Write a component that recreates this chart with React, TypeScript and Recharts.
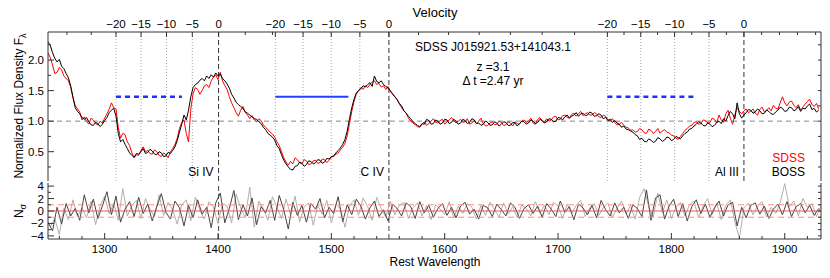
import { ComposedChart, Line, XAxis, YAxis, ReferenceLine } from "recharts";

const FONT = "'Liberation Sans', Arial, Helvetica, sans-serif";
const FRAME = "#333";
const W_DOMAIN: [number, number] = [1250, 1932];
const F_DOMAIN: [number, number] = [0.02, 2.46];
const N_DOMAIN: [number, number] = [-4.5, 4.5];

// spectra sampled every 2 A starting at 1250 A (rest frame)
const WAVE_START = 1250;
const WAVE_STEP = 2;

const bossFlux = [
  2.3, 2.24, 2.12, 2.03, 1.97, 2.01, 1.9, 1.86, 1.78, 1.71, 1.58, 1.4, 1.22, 1.16, 1.12, 1.06, 1.03, 1.06, 0.99, 0.94,
  0.93, 0.98, 0.96, 0.91, 0.95, 1.01, 1.06, 1.14, 1.18, 1.21, 1.08, 0.8, 0.66, 0.7, 0.62, 0.55, 0.48, 0.44, 0.41, 0.47,
  0.46, 0.5, 0.55, 0.47, 0.49, 0.54, 0.51, 0.46, 0.45, 0.5, 0.48, 0.42, 0.43, 0.49, 0.47, 0.52, 0.58, 0.68, 0.82, 0.95,
  1.1, 1.02, 1.18, 1.4, 1.55, 1.6, 1.62, 1.67, 1.7, 1.66, 1.74, 1.7, 1.76, 1.72, 1.79, 1.74, 1.77, 1.7, 1.66, 1.61,
  1.54, 1.44, 1.38, 1.31, 1.27, 1.24, 1.21, 1.15, 1.13, 1.1, 1.07, 1.04, 1.03, 0.99, 0.96, 0.9, 0.86, 0.8, 0.77, 0.74,
  0.69, 0.6, 0.55, 0.45, 0.36, 0.3, 0.25, 0.21, 0.2, 0.26, 0.27, 0.33, 0.31, 0.26, 0.29, 0.35, 0.34, 0.3, 0.32, 0.37,
  0.36, 0.31, 0.33, 0.39, 0.38, 0.42, 0.43, 0.48, 0.52, 0.56, 0.62, 0.7, 0.84, 1.04, 1.22, 1.36, 1.46, 1.5, 1.53, 1.58,
  1.56, 1.6, 1.63, 1.57, 1.74, 1.65, 1.63, 1.66, 1.6, 1.57, 1.54, 1.5, 1.45, 1.4, 1.35, 1.29, 1.25, 1.17, 1.13, 1.08,
  1.04, 0.99, 0.96, 0.93, 0.91, 0.96, 0.95, 1.03, 1.01, 0.95, 0.96, 1.02, 1.0, 0.95, 0.97, 1.03, 1.02, 0.96, 0.98, 1.03,
  1.0, 0.95, 0.97, 1.03, 1.01, 0.96, 0.98, 1.04, 1.02, 0.96, 0.97, 0.93, 0.95, 1.0, 0.98, 0.93, 0.94, 0.99, 0.97, 0.92,
  0.95, 0.99, 0.98, 0.93, 0.93, 0.98, 0.97, 0.92, 0.96, 1.0, 0.99, 0.95, 0.97, 1.02, 1.0, 0.96, 0.98, 1.03, 1.01, 0.97,
  0.99, 1.04, 1.03, 0.99, 1.0, 1.06, 1.05, 1.02, 1.07, 1.1, 1.05, 1.08, 1.1, 1.14, 1.08, 1.12, 1.13, 1.09, 1.1, 1.15,
  1.13, 1.08, 1.09, 1.12, 1.1, 1.04, 1.06, 1.01, 1.03, 0.98, 1.01, 0.97, 0.95, 0.9, 0.92, 0.87, 0.86, 0.84, 0.82, 0.78,
  0.76, 0.7, 0.72, 0.67, 0.66, 0.71, 0.69, 0.65, 0.67, 0.73, 0.71, 0.67, 0.69, 0.74, 0.73, 0.68, 0.7, 0.75, 0.73, 0.71,
  0.76, 0.8, 0.82, 0.87, 0.88, 0.92, 0.95, 0.99, 0.97, 0.93, 0.92, 0.97, 0.95, 0.91, 0.93, 0.98, 1.0, 0.96, 1.04, 1.0,
  1.09, 1.16, 1.12, 1.04, 1.3, 1.12, 1.05, 1.1, 1.14, 1.19, 1.18, 1.13, 1.15, 1.2, 1.17, 1.12, 1.13, 1.18, 1.16, 1.12,
  1.11, 1.15, 1.18, 1.23, 1.21, 1.16, 1.17, 1.23, 1.22, 1.17, 1.19, 1.24, 1.16, 1.21, 1.2, 1.25, 1.28, 1.19, 1.21, 1.15, 1.18,
];

const sdssFlux = [
  2.12, 2.04, 1.92, 1.78, 1.8, 1.88, 1.84, 1.74, 1.7, 1.66, 1.56, 1.38, 1.26, 1.2, 1.15, 1.02, 1.07, 1.0, 0.95, 1.05,
  1.02, 0.96, 0.94, 1.0, 0.97, 1.05, 1.12, 1.2, 1.3, 1.22, 1.2, 0.9, 0.72, 0.8, 0.78, 0.66, 0.6, 0.48, 0.4, 0.45,
  0.44, 0.52, 0.58, 0.5, 0.52, 0.47, 0.46, 0.53, 0.5, 0.44, 0.42, 0.48, 0.45, 0.4, 0.5, 0.55, 0.62, 0.72, 0.88, 0.98,
  1.02, 0.8, 0.66, 1.2, 1.45, 1.55, 1.52, 1.44, 1.5, 1.58, 1.6, 1.55, 1.66, 1.72, 1.76, 1.68, 1.8, 1.66, 1.58, 1.52,
  1.4, 1.3, 1.22, 1.14, 1.08, 1.18, 1.24, 1.15, 1.1, 1.04, 1.09, 1.02, 0.99, 1.04, 1.01, 0.94, 0.9, 0.86, 0.82, 0.79,
  0.74, 0.66, 0.6, 0.5, 0.4, 0.33, 0.28, 0.34, 0.3, 0.4, 0.37, 0.32, 0.3, 0.37, 0.35, 0.29, 0.3, 0.35, 0.36, 0.31,
  0.32, 0.38, 0.37, 0.32, 0.36, 0.41, 0.42, 0.46, 0.48, 0.53, 0.57, 0.64, 0.76, 0.96, 1.16, 1.32, 1.44, 1.5, 1.55, 1.52,
  1.58, 1.55, 1.6, 1.64, 1.66, 1.6, 1.62, 1.56, 1.58, 1.52, 1.57, 1.49, 1.44, 1.4, 1.36, 1.28, 1.22, 1.17, 1.13, 1.05,
  1.0, 0.97, 0.94, 0.91, 0.9, 0.95, 0.99, 0.93, 0.96, 1.0, 1.04, 0.98, 0.97, 1.01, 1.03, 0.95, 0.99, 1.02, 1.06, 1.01,
  0.97, 1.0, 1.03, 0.98, 0.99, 1.04, 0.95, 0.97, 1.01, 0.96, 1.0, 1.05, 0.96, 0.92, 0.93, 0.97, 0.99, 0.94, 0.95, 1.0,
  0.98, 0.93, 0.94, 0.99, 0.97, 0.92, 0.99, 0.96, 0.95, 1.0, 1.02, 0.98, 1.0, 1.05, 0.97, 0.95, 1.03, 1.06, 1.0, 0.98,
  1.04, 1.0, 1.02, 1.07, 1.08, 1.02, 1.03, 1.09, 1.1, 1.06, 1.05, 1.11, 1.13, 1.08, 1.12, 1.16, 1.09, 1.12, 1.14, 1.1,
  1.1, 1.14, 1.12, 1.07, 1.06, 1.1, 1.08, 1.02, 1.01, 1.04, 0.98, 0.94, 0.95, 0.98, 0.93, 0.9, 0.89, 0.85, 0.86, 0.82,
  0.83, 0.88, 0.86, 0.81, 0.8, 0.87, 0.85, 0.8, 0.83, 0.88, 0.8, 0.84, 0.86, 0.82, 0.81, 0.77, 0.76, 0.72, 0.7, 0.75,
  0.8, 0.85, 0.88, 0.92, 0.93, 0.98, 0.99, 0.95, 0.96, 1.02, 1.01, 0.97, 0.98, 1.05, 1.03, 0.97, 1.1, 1.02, 0.98, 1.12,
  1.18, 1.05, 0.95, 1.1, 1.22, 1.16, 1.12, 1.17, 1.2, 1.14, 1.16, 1.2, 1.13, 1.1, 1.19, 1.23, 1.15, 1.18, 1.22, 1.17,
  1.26, 1.21, 1.2, 1.3, 1.4, 1.3, 1.25, 1.31, 1.33, 1.26, 1.22, 1.27, 1.18, 1.23, 1.28, 1.32, 1.36, 1.27, 1.24, 1.29, 1.2,
];

// N_sigma residuals every 4 A: dark set from 1250 A, light set offset by 2 A
const RESID_STEP = 4;
const residDark = [
  -1.8, -3.2, 0.6, -2.1, 1.2, -0.8, 0.4, -1.5, 2.6, -0.3,
  1.9, -1.2, 0.8, 3.1, -0.6, 2.4, -1.8, 0.3, 1.5, -0.9,
  2.2, -0.4, 1.1, -1.6, 0.7, 2.8, -0.2, -1.3, 1.6, 0.5,
  -2.4, 0.9, -1.1, 1.8, -0.5, 0.6, -2.7, 1.3, 2.9, -1.9,
  0.4, 3.3, -1.4, 1.0, -0.8, 2.1, -2.2, 0.7, -0.3, 1.7,
  -1.5, 2.5, 0.2, -2.9, 1.4, -0.7, 0.9, -1.8, 1.2, 0.3,
  2.0, -1.1, 0.6, -0.4, 2.3, -1.7, 1.0, -0.6, 1.9, 0.8,
  -1.3, 0.5, 1.6, -0.9, 0.2, -1.6, 1.1, 0.4, -0.8, 1.3,
  0.7, -1.2, 1.5, -0.3, 0.9, -1.0, 0.4, 1.2, -0.7, 0.6,
  -1.1, 0.8, 1.4, -0.5, 0.3, -1.3, 0.9, 0.5, -0.9, 1.1,
  0.2, -0.8, 1.3, 0.6, -1.2, 0.4, 1.0, -0.4, 0.8, -1.0,
  1.2, 0.3, -0.9, 1.6, -0.2, 0.7, -1.4, 1.1, 0.5, -0.6,
  0.9, -1.1, 1.7, 0.2, -0.8, 1.3, -0.3, 0.6, -1.2, 1.0,
  0.4, -0.9, 3.4, -1.5, 2.1, 2.6, -1.3, 0.8, 1.9, -0.9,
  1.2, -1.6, 0.7, 1.8, -0.4, 1.1, -1.0, 0.5, 1.6, -0.8,
  1.0, 1.4, -2.4, 0.6, -1.1, 0.9, 1.3, -0.5, 0.8, -1.2,
  0.3, 1.1, -0.6, 1.5, -0.9, 0.7, 1.2, -0.3, 0.9, -0.7, 0.4,
];

const residLight = [
  -2.6, -1.2, -3.8, 0.4, -1.4, 1.8, -0.9, 0.5, -1.1, 1.6,
  -2.2, 0.8, 2.4, -0.5, 1.3, -1.5, 3.6, -0.8, 0.9, 1.7,
  -1.2, 2.0, 0.3, -0.9, 2.6, -0.7, 1.4, 0.2, -2.1, 1.0,
  1.8, -1.6, 2.2, 0.1, -1.3, 1.5, 0.6, -2.0, 1.2, 0.8,
  -1.9, 2.7, 0.5, -1.1, 3.8, -2.6, 1.6, 0.4, -1.5, 2.3,
  0.6, -1.2, 1.9, -0.6, 2.4, -1.8, 0.7, 1.3, -2.3, 0.9,
  -0.5, 1.7, -1.9, 1.1, 0.3, -2.6, 0.8, 1.8, -0.7, 2.1,
  0.7, -1.5, 2.2, 0.4, -1.0, 1.6, -0.6, 0.9, 1.4, -1.2,
  0.5, 1.3, -0.8, 0.9, -1.4, 1.0, 0.3, -0.6, 1.5, -1.1,
  0.8, -0.4, 1.2, 0.6, -1.3, 0.9, -0.7, 1.4, 0.2, -1.0,
  1.3, -0.5, 0.7, -1.1, 1.0, 0.4, -0.8, 1.5, -0.3, 0.9,
  -0.6, 1.4, 0.8, -1.2, 1.1, -0.4, 0.9, 1.7, -0.9, 0.5,
  1.2, -0.7, 0.6, 1.3, -1.0, 0.4, 1.6, -0.5, 0.9, -1.3,
  2.2, 3.6, 0.7, -1.0, 2.9, -0.3, 1.8, -1.2, 0.6, 1.4,
  -0.8, 1.0, 1.6, -1.1, 0.8, 2.0, -0.6, 1.3, -1.4, 0.9,
  1.8, -1.7, -4.4, 0.5, 1.3, -0.6, 0.8, 1.5, -1.0, 0.6,
  -0.4, 1.3, 4.4, 0.7, 1.6, -0.8, 2.0, 0.6, 1.2, -0.9, 0.8,
];

// absorption lines, velocities in 1000 km/s
const lineNames = ["Si IV", "C IV", "Al III"];
const lineCenters = [1400.5, 1550.8, 1864];
const labelledVel = [-20, -15, -10, -5, 0];
const extraVel = [
  [-30, -25, 5, 10],
  [5, 10, 15, 20, 25, 30],
  [-17.5, -12.5, -7.5, -2.5, 2.5, 5, 7.5, 10],
];
const troughVel: [number, number] = [-20, -7];
const troughSolid = [false, true, false];
const TROUGH_LEVEL = 1.4;

const waveLabels = [1300, 1400, 1500, 1600, 1700, 1800, 1900];
const fluxLabels = [0.5, 1.0, 1.5, 2.0];
const nLabels = [-4, -2, 0, 2, 4];

const C_KMS = 299792.458;
const toWave = (lam0: number, v: number) => {
  const b = (v * 1000) / C_KMS;
  return lam0 * Math.sqrt((1 + b) / (1 - b));
};

const specData = bossFlux.map((b, i) => ({
  w: WAVE_START + i * WAVE_STEP,
  boss: b,
  sdss: sdssFlux[i],
}));
const darkData = residDark.map((n, i) => ({ w: WAVE_START + i * RESID_STEP, n }));
const lightData = residLight.map((n, i) => ({ w: WAVE_START + 2 + i * RESID_STEP, n }));

const waveTicks: number[] = [];
for (let w = 1260; w <= 1920; w += 20) waveTicks.push(w);
const fluxTicks: number[] = [];
for (let f = 0.25; f <= 2.26; f += 0.25) fluxTicks.push(Math.round(f * 100) / 100);
const nTicks = [-4, -3, -2, -1, 0, 1, 2, 3, 4];

const velTicks = lineCenters
  .flatMap((c, k) => [
    ...labelledVel.map((v) => ({ w: toWave(c, v), label: v === 0 ? "0" : `\u2212${-v}` })),
    ...extraVel[k].map((v) => ({ w: toWave(c, v), label: "" })),
  ])
  .filter((t) => t.w > W_DOMAIN[0] && t.w < W_DOMAIN[1]);
const velLabel = new Map(velTicks.map((t) => [t.w.toFixed(3), t.label]));

const txt = { fontFamily: FONT, fill: "#000" };

const waveTick = (dir: 1 | -1, withLabel: boolean) => (p: any) => {
  const v = p.payload.value as number;
  const major = waveLabels.includes(v);
  return (
    <g>
      <line x1={p.x} x2={p.x} y1={p.y} y2={p.y + dir * (major ? 6 : 3)} stroke={FRAME} />
      {withLabel && major && (
        <text x={p.x} y={p.y + 13.5} textAnchor="middle" fontSize={11.5} {...txt}>
          {v}
        </text>
      )}
    </g>
  );
};

const velTick = (p: any) => {
  const label = velLabel.get(Number(p.payload.value).toFixed(3)) ?? "";
  return (
    <g>
      <line x1={p.x} x2={p.x} y1={p.y} y2={p.y + (label ? 5 : 3)} stroke={FRAME} />
      {label && (
        <text x={p.x} y={p.y - 4} textAnchor="middle" fontSize={11.5} {...txt}>
          {label}
        </text>
      )}
    </g>
  );
};

const yTick = (dir: 1 | -1, labels: number[] | null, fmt: (v: number) => string) => (p: any) => {
  const v = p.payload.value as number;
  const major = labels ? labels.includes(v) : false;
  return (
    <g>
      <line x1={p.x} x2={p.x + dir * (major ? 6 : 3)} y1={p.y} y2={p.y} stroke={FRAME} />
      {labels && major && (
        <text x={p.x - 4} y={p.y + 4} textAnchor="end" fontSize={11.5} {...txt}>
          {fmt(v)}
        </text>
      )}
    </g>
  );
};

const axisCommon = {
  type: "number" as const,
  allowDataOverflow: true,
  interval: 0 as const,
  tickSize: 0,
  tickMargin: 0,
  tickLine: false,
  axisLine: { stroke: FRAME },
};

export default function App() {
  return (
    <div style={{ position: "absolute", left: 0, top: 0, width: 830, height: 278, background: "#fff" }}>
      <div style={{ position: "absolute", left: 0, top: 0 }}>
        <ComposedChart width={830} height={181} data={specData} margin={{ top: 0, right: 0, bottom: 0, left: 0 }}>
          <XAxis {...axisCommon} xAxisId="w" dataKey="w" domain={W_DOMAIN} ticks={waveTicks} height={0} tick={waveTick(-1, false)} />
          <XAxis {...axisCommon} xAxisId="v" dataKey="w" orientation="top" domain={W_DOMAIN} ticks={velTicks.map((t) => t.w)} height={32} tick={velTick} />
          <YAxis {...axisCommon} yAxisId="l" domain={F_DOMAIN} ticks={fluxTicks} width={48} tick={yTick(1, fluxLabels, (v) => v.toFixed(1))} />
          <YAxis {...axisCommon} yAxisId="r" orientation="right" domain={F_DOMAIN} ticks={fluxTicks} width={9} tick={yTick(-1, null, String)} />

          <ReferenceLine xAxisId="w" yAxisId="l" y={1} stroke="#888" strokeDasharray="5 4" />
          {lineCenters.map((c) =>
            labelledVel
              .filter((v) => v !== 0)
              .map((v) => (
                <ReferenceLine key={`${c}${v}`} xAxisId="w" yAxisId="l" x={toWave(c, v)} stroke="#aaa" strokeDasharray="1 2" />
              ))
          )}
          {lineCenters.map((c, k) => (
            <ReferenceLine
              key={`z${c}`}
              xAxisId="w"
              yAxisId="l"
              x={c}
              stroke="#333"
              strokeDasharray="5 3"
              label={{ value: lineNames[k], position: "insideBottomRight", fontSize: 12, fill: "#000", fontFamily: FONT }}
            />
          ))}
          {lineCenters.map((c, k) => (
            <ReferenceLine
              key={`t${c}`}
              xAxisId="w"
              yAxisId="l"
              segment={[
                { x: toWave(c, troughVel[0]), y: TROUGH_LEVEL },
                { x: toWave(c, troughVel[1]), y: TROUGH_LEVEL },
              ]}
              stroke={troughSolid[k] ? "#2040ff" : "#2030ff"}
              strokeWidth={troughSolid[k] ? 2 : 2.5}
              strokeDasharray={troughSolid[k] ? undefined : "5 4"}
            />
          ))}

          <Line xAxisId="w" yAxisId="l" dataKey="sdss" stroke="#ff0000" strokeWidth={1} dot={false} isAnimationActive={false} />
          <Line xAxisId="w" yAxisId="l" dataKey="boss" stroke="#000" strokeWidth={1} dot={false} isAnimationActive={false} />
        </ComposedChart>
      </div>

      <div style={{ position: "absolute", left: 0, top: 175 }}>
        <ComposedChart width={830} height={103} margin={{ top: 8, right: 0, bottom: 0, left: 0 }}>
          <XAxis {...axisCommon} xAxisId="w" dataKey="w" domain={W_DOMAIN} ticks={waveTicks} height={39} tick={waveTick(-1, true)} />
          <XAxis {...axisCommon} xAxisId="t" dataKey="w" orientation="top" domain={W_DOMAIN} ticks={waveTicks} height={0} tick={waveTick(1, false)} />
          <YAxis {...axisCommon} yAxisId="l" domain={N_DOMAIN} ticks={nTicks} width={48} tick={yTick(1, nLabels, (v) => (v < 0 ? `\u2212${-v}` : String(v)))} />
          <YAxis {...axisCommon} yAxisId="r" orientation="right" domain={N_DOMAIN} ticks={nTicks} width={9} tick={yTick(-1, null, String)} />

          {lineCenters.slice(0, 2).map((c) => (
            <ReferenceLine key={`b${c}`} xAxisId="w" yAxisId="l" x={c} stroke="#444" strokeDasharray="5 3" />
          ))}

          <Line xAxisId="w" yAxisId="l" data={lightData} dataKey="n" stroke="#b0b0b0" strokeWidth={1} dot={false} isAnimationActive={false} />
          <Line xAxisId="w" yAxisId="l" data={darkData} dataKey="n" stroke="#444" strokeWidth={1} dot={false} isAnimationActive={false} />

          <ReferenceLine xAxisId="w" yAxisId="l" y={0} stroke="#ff5050" />
          <ReferenceLine xAxisId="w" yAxisId="l" y={1} stroke="#ff8a8a" strokeDasharray="6 4" />
          <ReferenceLine xAxisId="w" yAxisId="l" y={-1} stroke="#ff8a8a" strokeDasharray="6 4" />
        </ComposedChart>
      </div>

      <svg width={830} height={278} style={{ position: "absolute", left: 0, top: 0, pointerEvents: "none" }}>
        <text x={435} y={17} textAnchor="middle" fontSize={13} {...txt}>Velocity</text>
        <text x={493} y={51} textAnchor="middle" fontSize={12} {...txt}>SDSS J015921.53+141043.1</text>
        <text x={493} y={71} textAnchor="middle" fontSize={12} {...txt}>z =3.1</text>
        <text x={493} y={85} textAnchor="middle" fontSize={12} {...txt}>{"\u0394 t =2.47 yr"}</text>
        <text x={805} y={162} textAnchor="end" fontSize={12} fontFamily={FONT} fill="#ff0000">SDSS</text>
        <text x={805} y={176} textAnchor="end" fontSize={12} {...txt}>BOSS</text>
        <text transform="translate(23,106) rotate(-90)" textAnchor="middle" fontSize={12} {...txt}>
          Normalized Flux Density F<tspan dy={3} fontSize={9}>{"\u03bb"}</tspan>
        </text>
        <text transform="translate(23,211) rotate(-90)" textAnchor="middle" fontSize={12} {...txt}>
          N<tspan dy={3} fontSize={9}>{"\u03c3"}</tspan>
        </text>
        <text x={435} y={266} textAnchor="middle" fontSize={12} {...txt}>Rest Wavelength</text>
      </svg>
    </div>
  );
}
